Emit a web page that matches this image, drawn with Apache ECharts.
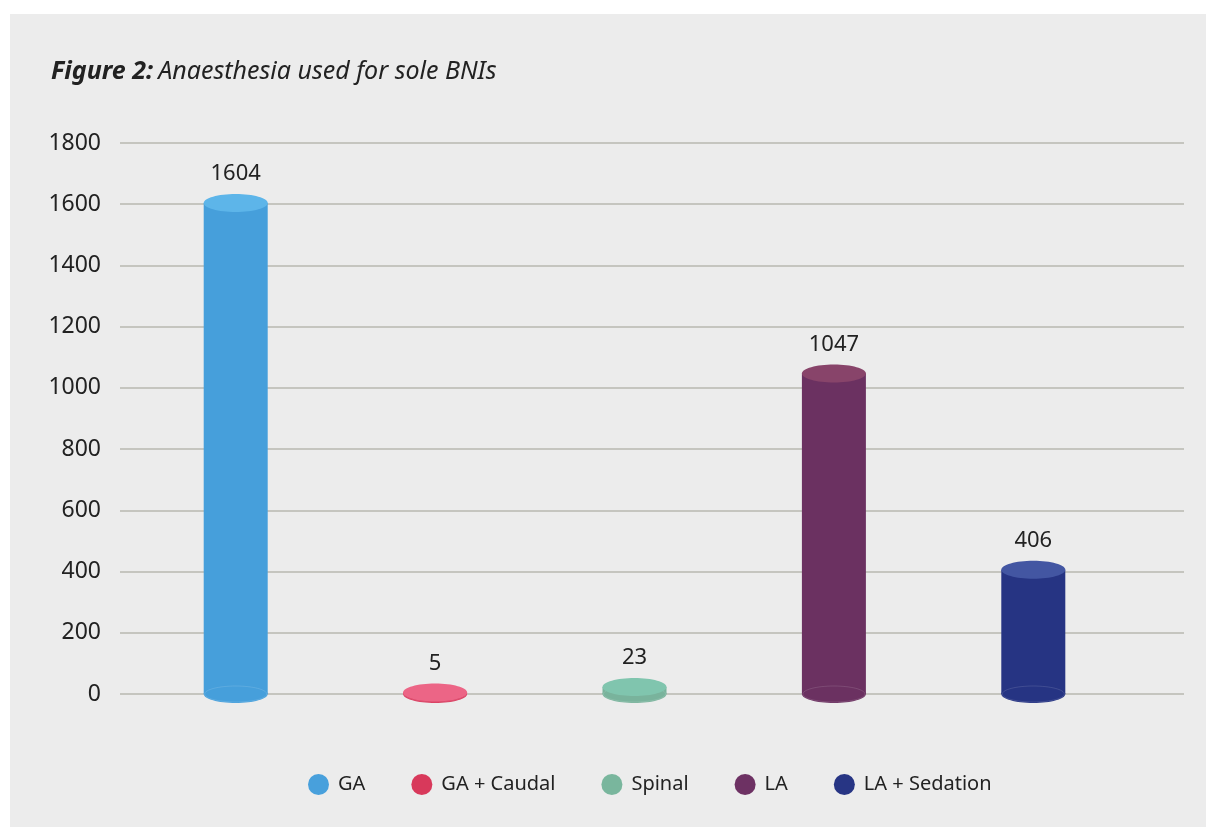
<!DOCTYPE html>
<html>
<head>
<meta charset="utf-8">
<script src="https://cdn.jsdelivr.net/npm/echarts@6/dist/echarts.min.js"></script>
<style>
html,body{margin:0;padding:0;background:#ffffff;}
#panel{position:absolute;left:10px;top:14px;width:1196px;height:813px;background:#ececec;}
#chart{position:absolute;left:0;top:0;width:1206px;height:827px;}
</style>
</head>
<body>
<div id="panel"></div>
<div id="chart"></div>
<script>
const categories = ['GA', 'GA + Caudal', 'Spinal', 'LA', 'LA + Sedation'];
const values = [1604, 5, 23, 1047, 406];
const yTicks = { min: 0, max: 1800, interval: 200 };
const bodyColors = ['#469fdb', '#d8385c', '#79b39c', '#6b3161', '#263483'];
const topColors = ['#5db5e9', '#ec6586', '#80c5ae', '#88446a', '#4356a2'];
const legendColors = ['#48a0dc', '#d8395b', '#79b69d', '#6d3163', '#273584'];

const FONT = "'Noto Sans', 'Open Sans', sans-serif";

function makeRender(i) {
  return function (params, api) {
    const idx = api.value(0);
    const v = api.value(1);
    const basePt = api.coord([idx, 0]);
    const topPt = api.coord([idx, v]);
    const cx = basePt[0];
    const w = 64, h = 18;
    return {
      type: 'group',
      children: [
        { type: 'rect', shape: { x: cx - w / 2, y: topPt[1], width: w, height: basePt[1] - topPt[1] }, style: { fill: bodyColors[i] } },
        { type: 'ellipse', shape: { cx: cx, cy: basePt[1], rx: w / 2, ry: h / 2 }, style: { fill: bodyColors[i] } },
        { type: 'ellipse', shape: { cx: cx, cy: basePt[1], rx: w / 2 - 1, ry: h / 2 - 1 }, style: { fill: 'none', stroke: 'rgba(255,255,255,0.12)', lineWidth: 1 } },
        { type: 'ellipse', shape: { cx: cx, cy: topPt[1], rx: w / 2, ry: h / 2 }, style: { fill: topColors[i] } },
        { type: 'text', x: cx, y: topPt[1] - 29, style: { text: String(v), align: 'center', verticalAlign: 'middle', font: "22px " + FONT, fill: '#222222' } }
      ]
    };
  };
}

const series = categories.map(function (name, i) {
  return {
    name: name,
    type: 'custom',
    xAxisIndex: 1,
    yAxisIndex: 1,
    itemStyle: { color: legendColors[i] },
    renderItem: makeRender(i),
    encode: { x: 0, y: 1 },
    data: [[i, values[i]]]
  };
});

const chart = echarts.init(document.getElementById('chart'), null, { renderer: 'canvas' });
chart.setOption({
  backgroundColor: 'transparent',
  animation: false,
  title: {
    left: 46, top: 54,
    text: '{b|Figure 2:} {n|Anaesthesia used for sole BNIs}',
    textStyle: {
      fontWeight: 'normal',
      rich: {
        b: { fontFamily: FONT, fontSize: 25, fontWeight: 'bold', fontStyle: 'italic', color: '#222222' },
        n: { fontFamily: FONT, fontSize: 25, fontWeight: 'normal', fontStyle: 'italic', color: '#222222' }
      }
    }
  },
  legend: {
    left: 303, top: 769,
    icon: 'circle',
    itemWidth: 21, itemHeight: 21,
    itemGap: 46,
    textStyle: { fontFamily: FONT, fontSize: 20, color: '#222222', padding: [0, 0, 0, 4] },
    data: categories
  },
  grid: [
    { left: 120, right: 22, top: 143, bottom: 133 },
    { left: 136, right: 73, top: 143, bottom: 133 }
  ],
  xAxis: [
    { type: 'value', gridIndex: 0, show: false, min: 0, max: 1 },
    { type: 'category', gridIndex: 1, data: categories, show: false, boundaryGap: true }
  ],
  yAxis: [
    {
      type: 'value', gridIndex: 0, min: yTicks.min, max: yTicks.max, interval: yTicks.interval,
      axisLine: { show: false }, axisTick: { show: false },
      axisLabel: { margin: 19, fontFamily: FONT, fontSize: 23, color: '#222222', formatter: function (v) { return String(v); } },
      splitLine: { lineStyle: { color: '#b9b9b1', width: 1.5 } }
    },
    { type: 'value', gridIndex: 1, min: yTicks.min, max: yTicks.max, interval: yTicks.interval, show: false, splitLine: { show: false } }
  ],
  series: series
});
</script>
</body>
</html>
